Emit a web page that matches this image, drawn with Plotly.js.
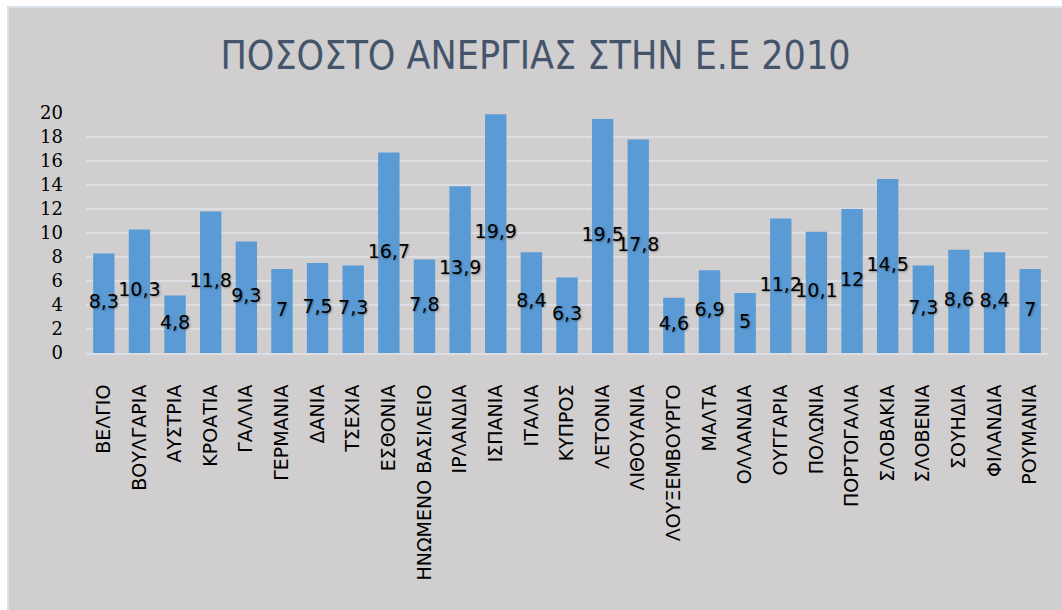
<!DOCTYPE html>
<html>
<head>
<meta charset="utf-8">
<script src="https://cdn.plot.ly/plotly-3.0.1.min.js"></script>
<style>
  html, body { margin: 0; padding: 0; background: #ffffff; width: 1062px; height: 610px; overflow: hidden; }
  #frame { position: absolute; left: 7px; top: 6px; width: 1055px; height: 604px; background: #dde3ea; }
  #chart { position: absolute; left: 9px; top: 8px; width: 1053px; height: 602px; }
</style>
</head>
<body>
<div id="frame"></div>
<div id="chart"></div>
<script>
const countries = ["ΒΕΛΓΙΟ","ΒΟΥΛΓΑΡΙΑ","ΑΥΣΤΡΙΑ","ΚΡΟΑΤΙΑ","ΓΑΛΛΙΑ","ΓΕΡΜΑΝΙΑ","ΔΑΝΙΑ","ΤΣΕΧΙΑ","ΕΣΘΟΝΙΑ","ΗΝΩΜΕΝΟ ΒΑΣΙΛΕΙΟ","ΙΡΛΑΝΔΙΑ","ΙΣΠΑΝΙΑ","ΙΤΑΛΙΑ","ΚΥΠΡΟΣ","ΛΕΤΟΝΙΑ","ΛΙΘΟΥΑΝΙΑ","ΛΟΥΞΕΜΒΟΥΡΓΟ","ΜΑΛΤΑ","ΟΛΛΑΝΔΙΑ","ΟΥΓΓΑΡΙΑ","ΠΟΛΩΝΙΑ","ΠΟΡΤΟΓΑΛΙΑ","ΣΛΟΒΑΚΙΑ","ΣΛΟΒΕΝΙΑ","ΣΟΥΗΔΙΑ","ΦΙΛΑΝΔΙΑ","ΡΟΥΜΑΝΙΑ"];
const unemployment = [8.3,10.3,4.8,11.8,9.3,7,7.5,7.3,16.7,7.8,13.9,19.9,8.4,6.3,19.5,17.8,4.6,6.9,5,11.2,10.1,12,14.5,7.3,8.6,8.4,7];
const yTicks = [0,2,4,6,8,10,12,14,16,18,20];
const chartTitle = "ΠΟΣΟΣΤΟ ΑΝΕΡΓΙΑΣ ΣΤΗΝ Ε.Ε 2010";

const labels = unemployment.map(v => String(v).replace('.', ','));

const bars = {
  type: 'bar',
  x: countries,
  y: unemployment,
  marker: { color: '#5b9bd5', line: { width: 0 } },
  hoverinfo: 'x+y',
  showlegend: false
};

const dataLabels = {
  type: 'scatter',
  mode: 'text',
  x: countries,
  y: unemployment.map(v => v / 2),
  text: labels,
  textposition: 'middle center',
  textfont: { family: 'DejaVu Sans, sans-serif', size: 19, color: '#000000', shadow: '1px 1px 2px rgba(0,0,0,0.35)' },
  hoverinfo: 'skip',
  showlegend: false,
  cliponaxis: false
};

const layout = {
  width: 1053,
  height: 602,
  paper_bgcolor: '#d0cecf',
  plot_bgcolor: '#d0cecf',
  separators: ',.',
  margin: { l: 77, r: 14, t: 105, b: 257 },
  bargap: 0.4,
  title: {
    text: chartTitle,
    font: { family: 'Liberation Sans Narrow, DejaVu Sans Condensed, sans-serif', size: 39, color: '#44546a' },
    x: 0.5, xanchor: 'center', xref: 'container',
    y: 1 - 47 / 602, yref: 'container', yanchor: 'middle'
  },
  xaxis: {
    type: 'category',
    range: [-0.5, countries.length - 0.5],
    autorange: false,
    tickangle: -90,
    tickfont: { family: 'DejaVu Sans, sans-serif', size: 19, color: '#000000' },
    showgrid: false,
    showline: true,
    linecolor: '#dcdee4',
    linewidth: 2,
    ticks: '',
    ticklabelstandoff: 22,
    zeroline: false,
    fixedrange: true
  },
  yaxis: {
    range: [0, 20],
    autorange: false,
    tickvals: yTicks,
    ticktext: yTicks.map(String),
    tickfont: { family: 'DejaVu Serif, serif', size: 18, color: '#000000' },
    showgrid: true,
    gridcolor: '#dcdee4',
    gridwidth: 2,
    zeroline: false,
    showline: false,
    ticks: '',
    ticklabelstandoff: 22,
    fixedrange: true
  }
};

Plotly.newPlot('chart', [bars, dataLabels], layout, { displayModeBar: false, staticPlot: true });
</script>
</body>
</html>
